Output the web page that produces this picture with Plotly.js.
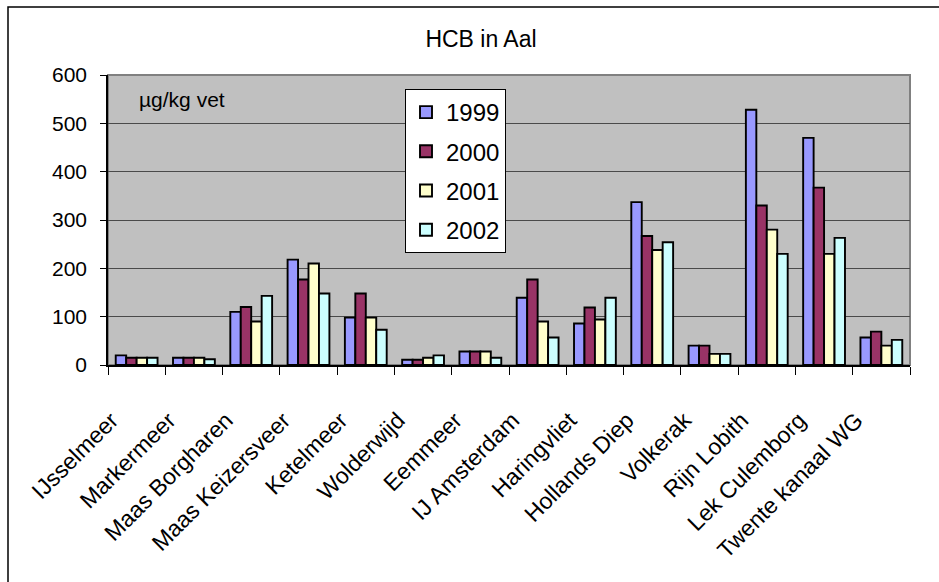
<!DOCTYPE html>
<html>
<head>
<meta charset="utf-8">
<script src="https://cdn.plot.ly/plotly-3.0.1.min.js"></script>
<style>
  html, body { margin: 0; padding: 0; background: #ffffff; }
  #chart { width: 939px; height: 582px; }
</style>
</head>
<body>
<div id="chart"></div>
<script>
// Sampling sites (Dutch waters)
const categories = [
  "IJsselmeer", "Markermeer", "Maas Borgharen", "Maas Keizersveer",
  "Ketelmeer", "Wolderwijd", "Eemmeer", "IJ Amsterdam", "Haringvliet",
  "Hollands Diep", "Volkerak", "Rijn Lobith", "Lek Culemborg", "Twente kanaal WG"
];

// HCB in eel, µg/kg fat, per year
const years = ["1999", "2000", "2001", "2002"];
const v1999 = [20, 15, 110, 218, 98, 11, 28, 139, 86, 337, 40, 528, 470, 57];
const v2000 = [15, 15, 120, 177, 148, 11, 28, 177, 119, 267, 40, 330, 367, 69];
const v2001 = [15, 15, 90, 210, 98, 15, 28, 90, 94, 238, 23, 280, 230, 40];
const v2002 = [15, 12, 143, 148, 73, 20, 15, 57, 139, 254, 23, 230, 263, 52];

const yTicks = [0, 100, 200, 300, 400, 500, 600];

const series = [v1999, v2000, v2001, v2002];
const colors = ["#9999FF", "#993366", "#FFFFCC", "#CCFFFF"];

const FONT = "Liberation Sans, Arial, sans-serif";

const traces = series.map((vals, i) => ({
  type: "bar",
  name: years[i],
  x: categories,
  y: vals,
  legendgroup: "g" + i,
  marker: { color: colors[i], line: { color: "#000000", width: 1.9 } },
  hoverinfo: "x+y+name"
}));

// plot area in pixels
const W = 939, H = 582;
const mL = 108, mR = 29, mT = 75, mB = 217;
const pw = W - mL - mR, ph = H - mT - mB;
const px = v => (v - mL) / pw;          // pixel x -> paper x
const py = v => (H - mB - v) / ph;      // pixel y -> paper y

const layout = {
  width: W,
  height: H,
  margin: { l: mL, r: mR, t: mT, b: mB, pad: 0 },
  paper_bgcolor: "#ffffff",
  plot_bgcolor: "#C0C0C0",
  font: { family: FONT, color: "#000000", size: 21 },
  title: {
    text: "HCB in Aal",
    font: { family: FONT, size: 23, color: "#000000" },
    x: px(481), xref: "paper", xanchor: "center",
    y: 1 - 39 / H, yref: "container", yanchor: "middle"
  },
  barmode: "group",
  bargap: 0.27,
  bargroupgap: 0,
  showlegend: true,
  legend: {
    x: px(405), y: py(89), xanchor: "left", yanchor: "top",
    bgcolor: "#ffffff", bordercolor: "#000000", borderwidth: 1,
    font: { family: FONT, size: 24, color: "#000000" },
    traceorder: "grouped", tracegroupgap: 5
  },
  xaxis: {
    type: "category",
    categoryorder: "array",
    categoryarray: categories,
    tickangle: -45,
    ticks: "outside",
    tickson: "boundaries",
    ticklen: 8,
    tickcolor: "#000000",
    tickwidth: 1,
    showline: true,
    linecolor: "#000000",
    linewidth: 1.5,
    showgrid: false,
    ticklabelstandoff: 31,
    ticklabelshift: -25,
    tickfont: { family: FONT, size: 23, color: "#000000" },
    fixedrange: true
  },
  yaxis: {
    range: [0, 600],
    tickmode: "array",
    tickvals: yTicks,
    ticktext: yTicks.map(String),
    ticks: "outside",
    ticklen: 6,
    tickcolor: "#000000",
    tickwidth: 1,
    showline: true,
    linecolor: "#000000",
    linewidth: 1.5,
    showgrid: true,
    gridcolor: "#4a4a4a",
    gridwidth: 1.2,
    zeroline: false,
    ticklabelstandoff: 9,
    tickfont: { family: FONT, size: 21, color: "#000000" },
    fixedrange: true
  },
  shapes: [
    // plot-area outline (top and right edges show in grey)
    {
      type: "rect", xref: "paper", yref: "paper",
      x0: 0, x1: 1, y0: 0, y1: 1,
      line: { color: "#808080", width: 2 }, layer: "below"
    },
    // chart-area frame
    {
      type: "rect", xref: "paper", yref: "paper",
      x0: px(8), x1: px(960), y0: py(600), y1: py(7),
      line: { color: "#000000", width: 1.5 }, layer: "above"
    }
  ],
  annotations: [
    {
      text: "µg/kg vet",
      xref: "paper", yref: "paper",
      x: px(137), y: py(100), xanchor: "left", yanchor: "middle",
      showarrow: false,
      font: { family: FONT, size: 21, color: "#000000" }
    }
  ]
};

Plotly.newPlot("chart", traces, layout, { displayModeBar: false, responsive: false });
</script>
</body>
</html>
